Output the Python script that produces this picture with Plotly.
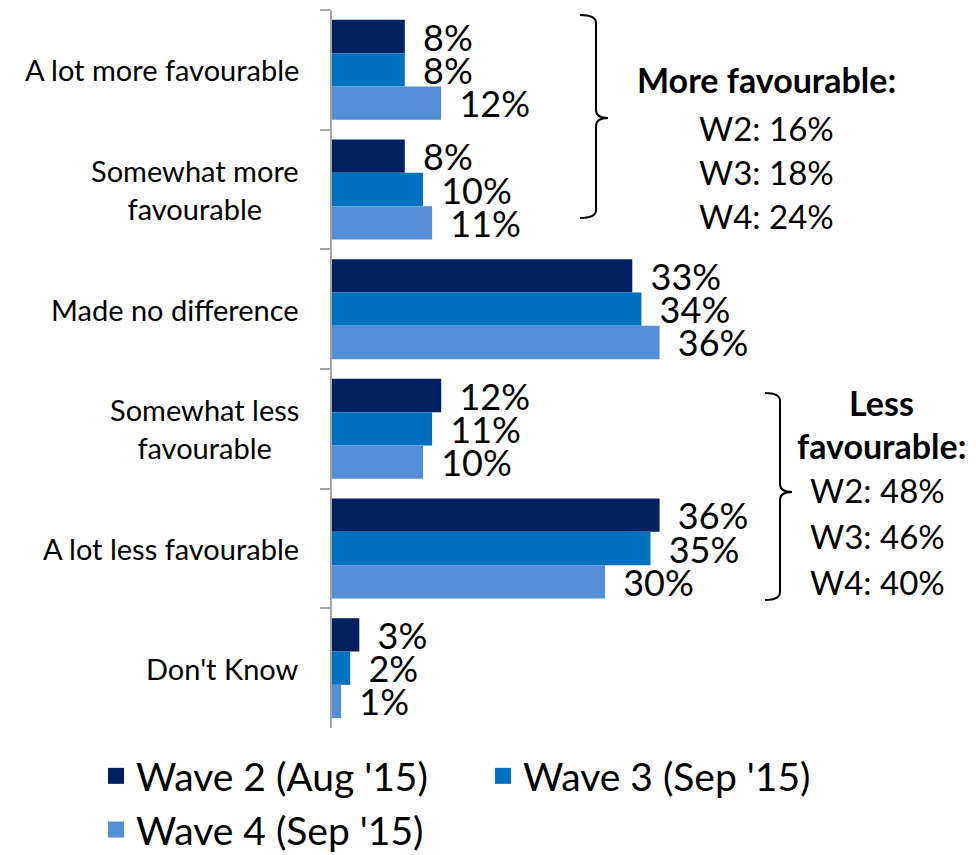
import plotly.graph_objects as go

categories = ["A lot more favourable", "Somewhat more favourable", "Made no difference",
              "Somewhat less favourable", "A lot less favourable", "Don't Know"]
category_labels = ["A lot more favourable", "Somewhat more<br>favourable", "Made no difference",
                   "Somewhat less<br>favourable", "A lot less favourable", "Don't Know"]
wave2 = [8, 8, 33, 12, 36, 3]
wave3 = [8, 10, 34, 11, 35, 2]
wave4 = [12, 11, 36, 10, 30, 1]
series_names = ["Wave 2 (Aug '15)", "Wave 3 (Sep '15)", "Wave 4 (Sep '15)"]
colors = ["#002060", "#0070C0", "#558ED5"]

more_title = "More favourable:"
more_lines = ["W2: 16%", "W3: 18%", "W4: 24%"]
less_title = ["Less", "favourable:"]
less_lines = ["W2: 48%", "W3: 46%", "W4: 40%"]

W, H = 976, 855
OFF = 8  # page body margin
ML, MR, MT, MB = 324, 0, 2, 135
PW, PH = W - ML - MR, H - MT - MB
FONT = "Lato"


def px(x):
    return (x - OFF - ML) / PW


def py(y):
    return (H - MB - (y - OFF)) / PH


fig = go.Figure()
for name, vals, col in zip(series_names, [wave2, wave3, wave4], colors):
    fig.add_trace(go.Bar(
        y=categories, x=vals, name=name, orientation="h", legendgroup=name, showlegend=False,
        marker=dict(color=col, line=dict(width=0)),
        text=vals, texttemplate="\u00a0\u2006%{x}%", textposition="outside",
        constraintext="none", cliponaxis=False,
        textfont=dict(family=FONT, size=36, color="black"),
        hoverinfo="skip",
    ))
# legend entries (square swatches)
for name, col in zip(series_names, colors):
    fig.add_trace(go.Scatter(
        x=[None], y=[None], mode="markers", name=name, legendgroup=name,
        marker=dict(symbol="square", size=16, color=col), showlegend=True, hoverinfo="skip",
    ))

annotations = []
for cat, lab in zip(categories, category_labels):
    annotations.append(dict(x=px(301), xref="paper", y=cat, yref="y", text=lab,
                            xanchor="right", yanchor="middle", align="center", showarrow=False,
                            font=dict(family=FONT, size=29, color="black")))

cx1 = 766
annotations.append(dict(x=px(cx1), y=py(80), xref="paper", yref="paper", text="<b>" + more_title + "</b>",
                        showarrow=False, xanchor="center", yanchor="middle",
                        font=dict(family=FONT, size=34, color="black")))
for i, t in enumerate(more_lines):
    annotations.append(dict(x=px(cx1), y=py(128 + 44 * i), xref="paper", yref="paper", text=t,
                            showarrow=False, xanchor="center", yanchor="middle",
                            font=dict(family=FONT, size=33, color="black")))
cx2 = 881
for i, t in enumerate(less_title):
    annotations.append(dict(x=px(cx2), y=py(403 + 43 * i), xref="paper", yref="paper", text="<b>" + t + "</b>",
                            showarrow=False, xanchor="center", yanchor="middle",
                            font=dict(family=FONT, size=34, color="black")))
for i, t in enumerate(less_lines):
    annotations.append(dict(x=px(cx2 - 4), y=py(490 + 46 * i), xref="paper", yref="paper", text=t,
                            showarrow=False, xanchor="center", yanchor="middle",
                            font=dict(family=FONT, size=33, color="black")))


def brace(x0, xv, xp, y0, ym, y1):
    r = 8
    pts = (f"M{px(x0)},{py(y0)} Q{px(xv)},{py(y0)} {px(xv)},{py(y0 + r)} "
           f"L{px(xv)},{py(ym - r)} Q{px(xv)},{py(ym)} {px(xp)},{py(ym)} "
           f"Q{px(xv)},{py(ym)} {px(xv)},{py(ym + r)} "
           f"L{px(xv)},{py(y1 - r)} Q{px(xv)},{py(y1)} {px(x0)},{py(y1)}")
    return dict(type="path", xref="paper", yref="paper", path=pts,
                line=dict(color="black", width=2))


shapes = [brace(580, 596, 608, 15, 118, 218), brace(765, 780, 792, 393, 492, 600)]

fig.update_layout(
    width=W, height=H, margin=dict(l=ML, r=MR, t=MT, b=MB),
    paper_bgcolor="white", plot_bgcolor="white",
    barmode="group", bargap=0.165, bargroupgap=0,
    xaxis=dict(range=[0, PW / 9.1], visible=False, fixedrange=True),
    yaxis=dict(autorange="reversed", showticklabels=False, showline=True, linecolor="#A6A6A6",
               linewidth=2, ticks="outside", ticklen=10, tickcolor="#A6A6A6", tickwidth=2,
               tickson="boundaries", showgrid=False, zeroline=False, fixedrange=True),
    showlegend=True,
    legend=dict(orientation="h", x=px(96), xref="paper", xanchor="left", y=py(744), yanchor="top",
                traceorder="normal", entrywidth=342, entrywidthmode="pixels",
                font=dict(family=FONT, size=39, color="black"), itemsizing="trace"),
    annotations=annotations, shapes=shapes,
)

fig.write_html("out.html")
